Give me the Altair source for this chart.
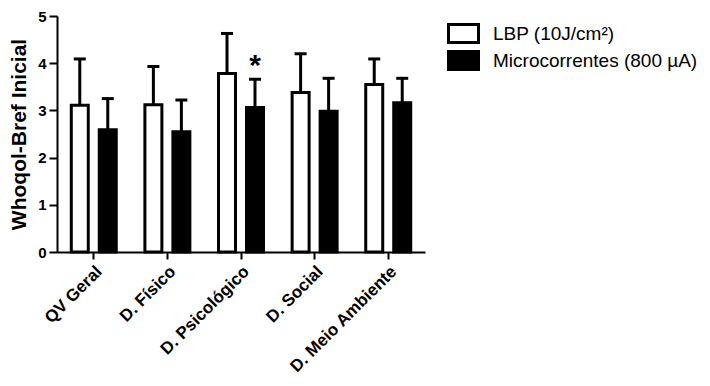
import altair as alt
import pandas as pd

categories = ["QV Geral", "D. Físico", "D. Psicológico", "D. Social", "D. Meio Ambiente"]
groups = ["LBP (10J/cm²)", "Microcorrentes (800 µA)"]
lbp_mean = [3.11, 3.12, 3.78, 3.38, 3.55]
lbp_sd = [0.98, 0.81, 0.85, 0.82, 0.54]
micro_mean = [2.59, 2.55, 3.06, 2.98, 3.16]
micro_sd = [0.66, 0.67, 0.60, 0.70, 0.52]
micro_marker = ["", "", "*", "", ""]

rows = []
for i, c in enumerate(categories):
    rows.append(dict(cat=c, grp=groups[0], mean=lbp_mean[i], sd=lbp_sd[i], star=""))
    rows.append(dict(cat=c, grp=groups[1], mean=micro_mean[i], sd=micro_sd[i], star=micro_marker[i]))
df = pd.DataFrame(rows)

FONT = "Arial"
YTITLE = "Whoqol-Bref Inicial"

x = alt.X(
    "cat:N",
    sort=categories,
    scale=alt.Scale(paddingInner=0.389, paddingOuter=0.194),
    axis=alt.Axis(
        title=None, labelAngle=-45, labelAlign="right", labelBaseline="top",
        labelFontSize=17, labelFontWeight="bold", labelPadding=4, labelLimit=0,
        tickSize=7, tickWidth=2, tickColor="black",
        domainWidth=2, domainColor="black", labelColor="black",
    ),
)
xo = alt.XOffset("grp:N", sort=groups, scale=alt.Scale(paddingInner=0.393, paddingOuter=0))
yscale = alt.Scale(domain=[0, 5], nice=False, zero=True)
yaxis = alt.Axis(
    values=[0, 1, 2, 3, 4, 5], format="d", labelFontSize=15, labelFontWeight="bold",
    labelColor="black", labelPadding=3, tickSize=8, tickWidth=2, tickColor="black",
    domainWidth=2, domainColor="black", grid=False,
    titleFontSize=21, titleFontWeight="bold", titleColor="black", titlePadding=8,
)

base = alt.Chart(df).encode(x=x, xOffset=xo)
calc = base.transform_calculate(upper="datum.mean + datum.sd")

bars = base.mark_bar(stroke="black", strokeWidth=3, opacity=1).encode(
    y=alt.Y("mean:Q", scale=yscale, axis=yaxis, title=YTITLE),
    fill=alt.Fill(
        "grp:N",
        scale=alt.Scale(domain=groups, range=["white", "black"]),
        legend=alt.Legend(
            title=None, orient="none", legendX=395, legendY=6,
            symbolType="M-1.5,-0.9H1.5V0.9H-1.5Z", symbolSize=400,
            symbolStrokeColor="black", symbolStrokeWidth=3, symbolOpacity=1,
            labelFontSize=19, labelFont=FONT, labelColor="black", labelOffset=18,
            labelLimit=0, rowPadding=-12,
        ),
    ),
)
rule = calc.mark_rule(color="black", strokeWidth=3).encode(
    y=alt.Y("mean:Q", title=YTITLE), y2="upper:Q"
)
cap = calc.mark_tick(color="black", thickness=3, size=12, opacity=1).encode(
    y=alt.Y("upper:Q", title=YTITLE)
)
star = calc.transform_filter("datum.star != ''").mark_text(
    fontSize=30, fontWeight="bold", font=FONT, baseline="alphabetic", dy=-4, color="black"
).encode(y=alt.Y("upper:Q", title=YTITLE), text="star:N")

chart = alt.layer(rule, cap, bars, star).properties(
    width=368, height=236,
    autosize=alt.AutoSizeParams(type="none"),
    padding={"left": 49, "top": 8, "right": 277, "bottom": 126},
).configure(font=FONT).configure_view(stroke=None)

chart.save("out.html", embed_options={"renderer": "svg", "actions": False})
